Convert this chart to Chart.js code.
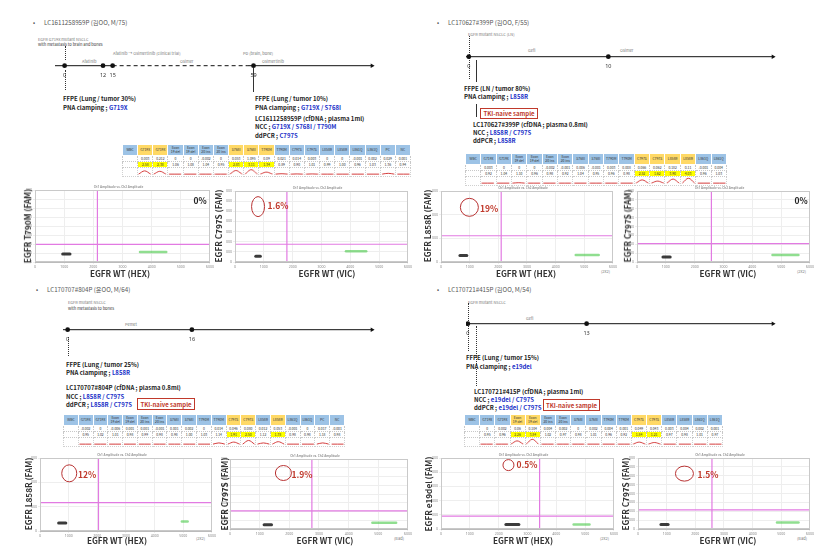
<!DOCTYPE html>
<html>
<head>
<meta charset="utf-8">
<title>EGFR ddPCR cases</title>
<script src="https://cdn.jsdelivr.net/npm/chart.js@4.4.1/dist/chart.umd.min.js"></script>
<style>
  body { margin: 0; background: #fff; }
  #page { position: relative; width: 833px; height: 558px; overflow: hidden; font-family: "Noto Sans CJK KR", "Noto Sans", sans-serif; color: #222; }
  #page canvas, .t, .vl, .box, table { position: absolute; }
  .t { white-space: nowrap; line-height: 1; transform: translateY(-50%); }
  .c { transform: translate(-50%, -50%); }
  .ttl { font-size: 6.2px; color: #555; }
  .b { font-size: 6px; font-weight: 600; color: #222; }
  .m { color: #2030c8; }
  .tiny { font-size: 4px; color: #777; }
  .tiny.k { color: #333; }
  .ax { font-size: 8.2px; font-weight: 700; color: #333; }
  .rot { transform: translate(-50%, -50%) rotate(-90deg); }
  .pct { font-size: 8.5px; font-weight: 700; color: #c0392b; }
  .pct.zero { color: #222; }
  .box { border: 1px solid #c0392b; color: #c0392b; font-size: 6px; font-weight: 600; display: flex; align-items: center; justify-content: center; box-sizing: border-box; white-space: nowrap; }
  .vl { width: 0; border-left: 1px dotted #333; }
  .vl.solid { border-left-style: solid; }
  table { border-collapse: collapse; table-layout: fixed; font-size: 3.4px; color: #333; }
  td { padding: 0; text-align: center; line-height: 1.05; overflow: hidden; }
  tr.hd td { background: #9dc3e6; border: 1px solid #fff; }
  tr.hd td.hot { background: #ffd966; }
  tr.v td { border: 1px dotted #c8c8c8; }
  tr.v2 td.hot { background: #ffff00; }
  tr.sp td { border: 1px dotted #d0d0d0; }
</style>
</head>
<body>
<div id="page"></div>
<script>
// ---- timelines (months) ----
const tlEvents = [[0, 12, 15, 59], [0, 10], [0, 16], [0, 13]]
const tlSpan = [[-3, 96], [-0.2, 21.8], [-0.6, 39.2], [-0.2, 33.4]]
const tlDashed = [[15, 57], null, null, null]

// ---- PNA / NCC tables ----
const cols = ['WBC', 'G719X', 'G719X', 'Exon 19 del', 'Exon 19 del', 'Exon 20 ins', 'Exon 20 ins', 'S768I', 'S768I',
  'T790M', 'T790M', 'C797S', 'C797S', 'L858R', 'L858R', 'L861Q', 'L861Q', 'PC', 'NC']
const nCols = [19, 17, 19, 17]
const hotCols = [[1, 2, 7, 8, 9], [11, 12, 13, 14], [11, 12, 14], [3, 4, 11, 12]]

const ratioA = ['0.003', '0.212', '0', '0', '-0.002', '0', '0.053', '1.095', '0.09', '0.021', '0.014', '0.003', '0', '0', '-0.001', '0.002', '0.029', '0.001']
const foldA = ['2.58', '2.38', '1.06', '1.08', '1.04', '0.95', '2.83', '3.11', '1.34', '0.89', '0.90', '1.01', '0.99', '1.00', '0.96', '1.03', '1.36', '0.94']
const peakA = [0.8, 0.7, 0, 0, 0, 0, 0.9, 1.1, 0.5, 0.1, 0.05, 0.05, 0, 0, 0, 0, 0.2, 0]

const ratioB = ['0.003', '0', '0', '0', '-0.002', '-0.001', '0.006', '-0.001', '0.003', '0.008', '0.066', '0.062', '0.182', '0.11', '-0.001', '0.004']
const foldB = ['0.92', '1.04', '1.10', '0.96', '0.98', '0.92', '1.04', '0.95', '0.96', '0.98', '2.52', '1.62', '3.90', '4.03', '0.96', '1.03']
const peakB = [0, 0, 0.1, 0, 0, 0, 0, 0, 0, 0, 0.8, 0.5, 1.0, 1.2, 0, 0]

const ratioC = ['-0.002', '0', '-0.006', '0.001', '0.001', '-0.001', '0.001', '0.002', '0', '0.014', '0.046', '0.080', '0.012', '0.053', '-0.001', '0', '0.017', '-0.001']
const foldC = ['0.95', '1.02', '1.01', '0.98', '0.99', '0.98', '0.98', '1.00', '1.03', '1.14', '1.91', '2.50', '1.12', '1.78', '0.98', '0.98', '1.18', '0.98']
const peakC = [0, 0, 0, 0, 0, 0, 0, 0, 0, 0.3, 0.5, 0.9, 0.3, 0.6, 0, 0, 0.3, 0]

const ratioD = ['0', '0.002', '0.06', '0.104', '0.004', '0.002', '0', '0.002', '0.004', '0.001', '0.049', '0.043', '0.003', '0.004', '0.002', '0.001']
const foldD = ['0.95', '0.96', '2.26', '3.84', '1.02', '0.97', '0.98', '1.01', '0.96', '0.92', '1.84', '1.21', '0.97', '0.98', '1.01', '0.97']
const peakD = [0, 0, 0.8, 1.2, 0, 0, 0, 0, 0, 0, 0.5, 0.4, 0, 0, 0, 0]

// ---- ddPCR 2-D amplitude plots (A1 A2 B1 B2 C1 C2 D1 D2) ----
const xMax = 6000
const yMax = [8000, 7000, 3000, 8000, 3000, 8000, 10000, 8000]
const thrX = [2140, 1800, 2100, 2580, 2040, 2760, 3420, 2580]
const thrY = [1950, 1750, 1110, 2080, 1170, 2080, 1800, 2160]
const negX = [[950, 1200], [720, 880], [660, 900], [900, 1150], [650, 900], [1150, 1400], [2250, 2700], [800, 1050]]
const negY = [900, 560, 270, 560, 330, 480, 650, 520]
const wtX = [[3600, 4500], [3850, 4550], [4700, 5500], [4700, 5600], [4950, 5150], [4800, 5600], [4600, 5150], [4850, 5600]]
const wtY = [1100, 1050, 300, 800, 390, 720, 650, 720]
const mutAt = [null, [800, 5460], [990, 2310], null, [1020, 2370], [1800, 6400], [2340, 9000], [1620, 6240]]
const pctText = ['0%', '1.6%', '19%', '0%', '12%', '1.9%', '0.5%', '1.5%']
const yLabels = ['EGFR T790M (FAM)', 'EGFR C797S (FAM)', 'EGFR L858R (FAM)', 'EGFR C797S (FAM)',
  'EGFR L858R (FAM)', 'EGFR C797S (FAM)', 'EGFR e19del (FAM)', 'EGFR C797S (FAM)']
const xLabels = ['EGFR WT (HEX)', 'EGFR WT (VIC)', 'EGFR WT (HEX)', 'EGFR WT (VIC)',
  'EGFR WT (HEX)', 'EGFR WT (VIC)', 'EGFR WT (HEX)', 'EGFR WT (VIC)']

// ---- layout (pixels) ----
const tlGeom = [[55, 65, 372], [466, 56, 773], [63, 329, 372], [466, 323, 773]]
const tblBox = [[122, 144, 289], [465, 153, 262], [63, 414, 282], [464, 414, 259]]
const rowH = [11, 6, 6, 9]
const plotRect = [[35, 190, 211, 262], [235, 191, 409, 262], [441, 191, 614, 262], [637, 191, 811, 262],
  [40, 458, 213, 531], [230, 459, 409, 529], [441, 458, 615, 529], [638, 458, 811, 529]]
const ringSize = [null, [6.5, 10], [9, 9], null, [7.5, 8.5], [8, 7.5], [5.5, 5.5], [9, 7.5]]
const pctPos = [[200, 200], [278, 205], [489, 208], [801, 200], [87, 474], [302, 474], [527, 464], [708, 474]]
const yLabPos = [[27, 226], [218, 226], [427, 226], [627, 226], [28, 494], [224, 494], [428, 494], [625, 494]]
const xLabPos = [[120, 273], [327, 273], [526, 273], [728, 273], [117, 540], [325, 540], [523, 540], [728, 540]]

const page = document.getElementById('page')
Chart.defaults.font.family = '"Noto Sans", sans-serif'

function addCanvas(x, y, w, h) {
  const cv = document.createElement('canvas')
  cv.width = w
  cv.height = h
  cv.style.left = x + 'px'
  cv.style.top = y + 'px'
  cv.style.width = w + 'px'
  cv.style.height = h + 'px'
  page.appendChild(cv)
  return cv
}

function txt(x, y, html, cls) {
  const d = document.createElement('div')
  d.className = 't ' + cls
  d.style.left = x + 'px'
  d.style.top = y + 'px'
  d.innerHTML = html
  page.appendChild(d)
}

function vline(x, y1, y2, solid) {
  const d = document.createElement('div')
  d.className = 'vl' + (solid ? ' solid' : '')
  d.style.left = x + 'px'
  d.style.top = y1 + 'px'
  d.style.height = (y2 - y1) + 'px'
  page.appendChild(d)
}

function box(x, y, w, h, text) {
  const d = document.createElement('div')
  d.className = 'box'
  Object.assign(d.style, { left: x + 'px', top: y + 'px', width: w + 'px', height: h + 'px' })
  d.textContent = text
  page.appendChild(d)
}

const quiet = { animation: false, responsive: false, events: [] }

// timeline: months axis with the clinical events marked
function addTimeline(k) {
  const [l, yl, r] = tlGeom[k]
  const [lo, hi] = tlSpan[k]
  const ev = tlEvents[k]
  const dash = tlDashed[k]
  const cv = addCanvas(l - 4, yl - 8, r - l + 8, 24)
  const axisPts = [lo, ...(dash || []), hi].map(v => ({ x: v, y: 0.5 }))
  new Chart(cv, {
    type: 'scatter',
    data: {
      datasets: [
        { data: ev.map(v => ({ x: v, y: 0.5 })), pointRadius: 2.4, pointBackgroundColor: '#111', pointBorderWidth: 0 },
        {
          type: 'line', data: axisPts, borderColor: '#111', borderWidth: 1, clip: false,
          pointRadius: c => c.dataIndex === axisPts.length - 1 ? 2.6 : 0,
          pointStyle: 'triangle', rotation: 90, pointBackgroundColor: '#111', pointBorderWidth: 0,
          segment: { borderDash: c => dash && c.p0.parsed.x === dash[0] ? [4, 3] : undefined }
        }
      ]
    },
    options: {
      ...quiet,
      layout: { padding: { left: 4, right: 4 } },
      plugins: { legend: { display: false }, tooltip: { enabled: false } },
      scales: {
        x: {
          type: 'linear', min: lo, max: hi,
          afterBuildTicks: s => { s.ticks = ev.map(v => ({ value: v })) },
          ticks: { font: { size: 5.5 }, color: '#333', padding: 2 },
          grid: { display: false, drawTicks: false },
          border: { display: false }
        },
        y: { display: false, min: 0, max: 1 }
      }
    }
  })
}

function addTable(k, ratio, fold, peaks) {
  const [x, y, w] = tblBox[k]
  const n = nCols[k]
  const hot = hotCols[k]
  const names = cols.slice(0, n)
  const t = document.createElement('table')
  t.style.left = x + 'px'
  t.style.top = y + 'px'
  t.style.width = w + 'px'
  const rows = [
    ['hd', names.map(c => c.replace(/^Exon /, 'Exon<br>'))],
    ['v v1', ['', ...ratio]],
    ['v v2', ['', ...fold]],
    ['sp', names.map(() => '')]
  ]
  rows.forEach(([cls, cells], ri) => {
    const tr = document.createElement('tr')
    tr.className = cls
    tr.style.height = rowH[ri] + 'px'
    cells.forEach((c, ci) => {
      const td = document.createElement('td')
      if (hot.includes(ci)) td.className = 'hot'
      td.innerHTML = c
      tr.appendChild(td)
    })
    t.appendChild(tr)
  })
  page.appendChild(t)

  // amplification curves, one small trace per mutation well
  const cw = w / n
  const cv = addCanvas(x + cw, y + rowH[0] + rowH[1] + rowH[2] + 1, w - cw, rowH[3])
  const pts = []
  peaks.forEach((h, i) => {
    pts.push({ x: i + 0.1, y: 0 }, { x: i + 0.5, y: h }, { x: i + 0.9, y: 0 }, { x: i + 0.95, y: null })
  })
  new Chart(cv, {
    type: 'line',
    data: { datasets: [{ data: pts, borderColor: '#d43c3c', borderWidth: 1, pointRadius: 0, tension: 0.35, spanGaps: false }] },
    options: {
      ...quiet,
      plugins: { legend: { display: false }, tooltip: { enabled: false } },
      scales: { x: { type: 'linear', display: false, min: 0, max: peaks.length }, y: { display: false, min: -0.7, max: 1.5 } }
    }
  })
}

const ringPlugin = {
  id: 'ring',
  afterDraw(chart, args, opts) {
    const { ctx, chartArea: a, scales: { x, y } } = chart
    ctx.save()
    ctx.strokeStyle = '#c9c9c9'
    ctx.lineWidth = 1
    ctx.strokeRect(a.left + 0.5, a.top + 0.5, a.right - a.left - 1, a.bottom - a.top - 1)
    if (opts.at) {
      ctx.strokeStyle = '#b83232'
      ctx.beginPath()
      ctx.ellipse(x.getPixelForValue(opts.at[0]), y.getPixelForValue(opts.at[1]), opts.rx, opts.ry, 0, 0, Math.PI * 2)
      ctx.stroke()
    }
    ctx.restore()
  }
}

function addPlot(i) {
  const [l, t, r, b] = plotRect[i]
  const cv = addCanvas(l - 9, t - 7, r - l + 13, b - t + 15)
  const seg = (xs, yv) => xs.map(v => ({ x: v, y: yv }))
  const ring = ringSize[i]
  new Chart(cv, {
    type: 'scatter',
    data: {
      datasets: [
        { data: [{ x: thrX[i], y: 0 }, { x: thrX[i], y: yMax[i] }], showLine: true, borderColor: '#e27ae2', borderWidth: 1.2, pointRadius: 0 },
        { data: [{ x: 0, y: thrY[i] }, { x: xMax, y: thrY[i] }], showLine: true, borderColor: '#e27ae2', borderWidth: 1.2, pointRadius: 0 },
        { data: seg(negX[i], negY[i]), showLine: true, borderColor: 'rgba(25,25,25,0.85)', borderWidth: 3, borderCapStyle: 'round', pointRadius: 0 },
        { data: seg(wtX[i], wtY[i]), showLine: true, borderColor: 'rgba(70,200,70,0.6)', borderWidth: 2.5, borderCapStyle: 'round', pointRadius: 0 }
      ]
    },
    plugins: [ringPlugin],
    options: {
      ...quiet,
      layout: { padding: { right: 4 } },
      plugins: {
        legend: { display: false },
        tooltip: { enabled: false },
        title: { display: true, text: 'Ch1 Amplitude vs. Ch2 Amplitude', font: { size: 3 }, color: '#999', padding: { top: 2, bottom: 1.4 } },
        ring: ring ? { at: mutAt[i], rx: ring[0], ry: ring[1] } : {}
      },
      scales: {
        x: {
          type: 'linear', min: 0, max: xMax,
          ticks: { stepSize: 1000, font: { size: 3.5 }, color: '#888', padding: 1, maxRotation: 0, callback: v => v },
          grid: { color: '#eeeeee', tickLength: 2 },
          border: { color: '#bbb' },
          afterFit: s => { s.height = 8 }
        },
        y: {
          min: 0, max: yMax[i],
          ticks: { stepSize: 1000, font: { size: 3.5 }, color: '#888', padding: 1, callback: v => v },
          grid: { color: '#eeeeee', tickLength: 2 },
          border: { color: '#bbb' },
          afterFit: s => { s.width = 9 }
        }
      }
    }
  })
  txt(pctPos[i][0], pctPos[i][1], pctText[i], 'c pct' + (mutAt[i] ? '' : ' zero'))
  txt(yLabPos[i][0], yLabPos[i][1], yLabels[i], 'ax rot')
  txt(xLabPos[i][0], xLabPos[i][1], xLabels[i], 'ax c')
}

// ---- page text ----
const m = s => '<span class="m">' + s + '</span>'
const texts = [
  // A
  [33, 23, '•', 'ttl'], [44, 23, 'LC1611258959P (김OO, M/75)', 'ttl'],
  [38, 39, 'EGFR G719X mutant NSCLC', 'tiny'], [38, 44, 'with metastasis to brain and bones', 'tiny k'],
  [82, 61, 'Afatinib', 'tiny'], [113, 53, 'Afatinib → Osimertinib (clinical trial)', 'tiny'],
  [180, 61, 'Osimer', 'tiny'], [243, 53, 'PD (brain, bone)', 'tiny'], [262, 61, 'Osimertinib', 'tiny'],
  [63, 99, 'FFPE (Lung / tumor 30%)', 'b'], [63, 108, 'PNA clamping ; ' + m('G719X'), 'b'],
  [255, 99, 'FFPE (Lung / tumor 10%)', 'b'], [255, 108, 'PNA clamping ; ' + m('G719X / S768I'), 'b'],
  [255, 119, 'LC1611258959P (cfDNA ; plasma 1ml)', 'b'], [255, 127, 'NCC ; ' + m('G719X / S768I / T790M'), 'b'],
  [255, 136, 'ddPCR ; ' + m('C797S'), 'b'],
  // B
  [437, 23, '•', 'ttl'], [448, 23, 'LC170627#399P (김OO, F/55)', 'ttl'],
  [468, 34, 'EGFR mutant NSCLC (LN)', 'tiny'], [528, 50, 'Gefi', 'tiny'], [620, 50, 'Osimer', 'tiny'],
  [464, 89, 'FFPE (LN / tumor 80%)', 'b'], [464, 97, 'PNA clamping ; ' + m('L858R'), 'b'],
  [473, 125, 'LC170627#399P (cfDNA ; plasma 0.8ml)', 'b'], [473, 133, 'NCC ; ' + m('L858R / C797S'), 'b'],
  [473, 141, 'ddPCR ; ' + m('L858R'), 'b'],
  [601, 271, '(2x2)', 'tiny'], [797, 271, '(2x2)', 'tiny'],
  // C
  [36, 290, '•', 'ttl'], [47, 290, 'LC170707#804P (윤OO, M/64)', 'ttl'],
  [68, 302, 'EGFR mutant NSCLC', 'tiny'], [68, 308, 'with metastasis to bones', 'tiny k'], [125, 324, 'Pemet', 'tiny'],
  [66, 365, 'FFPE (Lung / tumor 25%)', 'b'], [66, 373, 'PNA clamping ; ' + m('L858R'), 'b'],
  [66, 388, 'LC170707#804P (cfDNA ; plasma 0.8ml)', 'b'], [66, 397, 'NCC ; ' + m('L858R / C797S'), 'b'],
  [66, 405, 'ddPCR ; ' + m('L858R / C797S'), 'b'],
  [196, 538, '(2x2)', 'tiny'], [394, 538, '(Bad)', 'tiny'],
  // D
  [437, 290, '•', 'ttl'], [448, 290, 'LC170721#415P (김OO, M/54)', 'ttl'],
  [468, 302, 'EGFR mutant NSCLC', 'tiny'], [526, 318, 'Gefi', 'tiny'],
  [466, 358, 'FFPE (Lung / tumor 15%)', 'b'], [466, 367, 'PNA clamping ; ' + m('e19del'), 'b'],
  [474, 392, 'LC170721#415P (cfDNA ; plasma 1ml)', 'b'], [474, 400, 'NCC ; ' + m('e19del / C797S'), 'b'],
  [474, 408, 'ddPCR ; ' + m('e19del / C797S'), 'b'],
  [600, 538, '(2x2)', 'tiny'], [797, 538, '(Bad)', 'tiny']
]
texts.forEach(([x, y, h, c]) => txt(x, y, h, c))

// event arrows
vline(65, 46, 60, false); vline(65, 70, 90, false); vline(253, 68, 92, true)
vline(469, 36, 79, false); vline(476, 60, 82, true); vline(476, 104, 117, true)
vline(68, 337, 356, false)
vline(468, 303, 351, false); vline(476, 326, 386, false)

box(480, 108, 58, 11, 'TKI-naive sample')
box(137, 398, 58, 12, 'TKI-naive sample')
box(543, 399, 57, 12, 'TKI-naive sample')

for (let k = 0; k < 4; k++) addTimeline(k)
addTable(0, ratioA, foldA, peakA)
addTable(1, ratioB, foldB, peakB)
addTable(2, ratioC, foldC, peakC)
addTable(3, ratioD, foldD, peakD)
for (let i = 0; i < 8; i++) addPlot(i)
</script>
</body>
</html>
